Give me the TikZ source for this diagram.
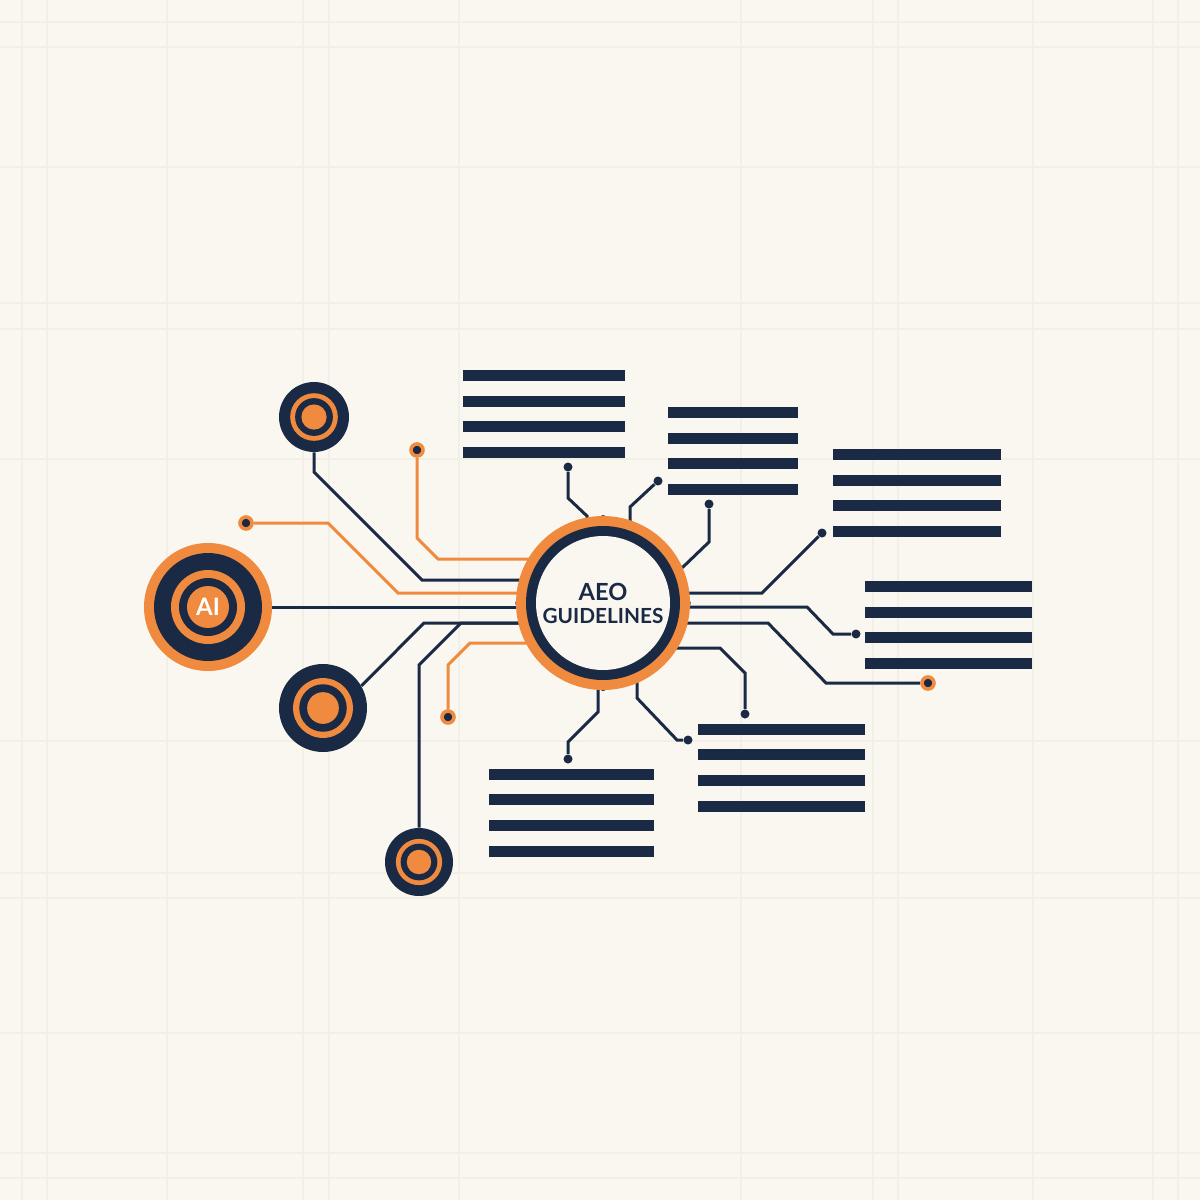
\documentclass[tikz,border=0pt]{standalone}
\usepackage{fontspec}
\setmainfont{Lato}
\usetikzlibrary{backgrounds}
\definecolor{navy}{HTML}{1B2A44}
\definecolor{accent}{HTML}{F08A3E}
\definecolor{paper}{HTML}{F9F7F0}
\definecolor{gridc}{HTML}{F2EFE7}
\tikzstyle{wire} = [draw=navy, line width=1.5pt]
\tikzstyle{owire} = [wire, draw=accent]
\tikzstyle{dot} = [circle, fill=navy, inner sep=0pt, minimum size=4.5pt]
\tikzstyle{odot} = [dot, draw=accent, line width=1.8pt, minimum size=6pt]
\tikzstyle{gridline} = [draw=gridc, line width=0.8pt]
\tikzstyle{doc} = [rectangle, inner sep=0pt, minimum height=44pt,
    path picture={\foreach \k in {0,...,3}
      \fill[navy] ([yshift=-\k*12.85pt]path picture bounding box.north west)
        rectangle ([yshift=-\k*12.85pt-5.5pt]path picture bounding box.north east);}]
\tikzset{
  target/.style={circle, fill=navy, inner sep=0pt, minimum size=#1pt,
    path picture={
      \fill[accent] (path picture bounding box.center) circle[radius=0.68*#1];
      \fill[navy] (path picture bounding box.center) circle[radius=0.54*#1];
      \fill[accent] (path picture bounding box.center) circle[radius=0.36*#1];}},
  aihub/.style={circle, fill=accent, inner sep=0pt, minimum size=64pt,
    text=white, font=\bfseries\fontsize{12}{14}\selectfont,
    path picture={
      \fill[navy] (path picture bounding box.center) circle[radius=54];
      \fill[accent] (path picture bounding box.center) circle[radius=37];
      \fill[navy] (path picture bounding box.center) circle[radius=29];
      \fill[accent] (path picture bounding box.center) circle[radius=21];}},
  hub/.style={circle, fill=accent, inner sep=0pt, minimum size=87pt,
    text=navy, align=center, font=\bfseries,
    path picture={
      \fill[navy] (path picture bounding box.center) circle[radius=77];
      \fill[paper] (path picture bounding box.center) circle[radius=67];}}
}

\begin{document}
\begin{tikzpicture}[x=0.5pt, y=-0.5pt]
    \useasboundingbox (0,0) rectangle (1200,1200);
    % Place nodes
    \node [aihub] (ai) at (208,607) {AI};
    \node [hub] (hub) at (603,603)
      {{\fontsize{11.8}{12}\selectfont AEO}\\[-0.5pt]{\fontsize{10.4}{12}\selectfont GUIDELINES}};
    \node [target=35] (tl) at (314,417) {};
    \node [target=44] (ml) at (323,708) {};
    \node [target=34] (bl) at (419,862) {};
    \node [odot] (o1) at (417,450) {};
    \node [odot] (o2) at (246,523) {};
    \node [odot] (o3) at (448,717) {};
    \node [odot] (o4) at (928,683) {};
    \node [dot] (d1) at (568,467) {};
    \node [dot] (d2) at (658,481) {};
    \node [dot] (d3) at (709,504) {};
    \node [dot] (d4) at (822,533) {};
    \node [dot] (d5) at (856,634) {};
    \node [dot] (d6) at (745,714) {};
    \node [dot] (d7) at (688,740) {};
    \node [dot] (d8) at (568,759) {};
    \node [doc, minimum width=81pt] (doc1) at (544,414) {};
    \node [doc, minimum width=65pt] (doc2) at (733,451) {};
    \node [doc, minimum width=84pt] (doc3) at (917,493) {};
    \node [doc, minimum width=83.5pt] (doc4) at (948.5,625) {};
    \node [doc, minimum width=83.5pt] (doc5) at (781.5,767.5) {};
    \node [doc, minimum width=82.5pt] (doc6) at (571.5,812.5) {};
    \begin{scope}[on background layer]
    \fill [paper] (0,0) rectangle (1200,1200);
    \foreach \g in {22,47,167,303,329,459,741,873,898,1033,1153,1178} {
      \path [gridline] (\g,0) -- (\g,1200);
      \path [gridline] (0,\g) -- (1200,\g);
    }
    % Draw edges
    \path [wire] (tl.south) -- (314,472) -- (422,580) -| (hub);
    \path [owire] (o1) -- (417,538) -- (438,559) -| (hub);
    \path [owire] (o2) -- (328,523) -- (398,593) -| (hub);
    \path [wire] (ai) -| (hub);
    \path [wire] (ml.30) -- (424,623) -| (hub);
    \path [wire] (bl.north) -- (419,665) -- (461,623) -| (hub);
    \path [owire] (o3) -- (448,665) -- (470,643) -| (hub);
    \path [wire] (d1) -- (568,498) -- (587,516) |- (hub);
    \path [wire] (d2) -- (630,507) |- (hub);
    \path [wire] (d3) -- (709,542) -- (683,567) -| (hub);
    \path [wire] (d4) -- (762,593) -| (hub);
    \path [wire] (d5) -- (833,634) -- (807,607) -| (hub);
    \path [wire] (o4) -- (826,683) -- (768,623) -| (hub);
    \path [wire] (d6) -- (745,673) -- (720,648) -| (hub);
    \path [wire] (d7) -- (677,740) -- (637,698) |- (hub);
    \path [wire] (d8) -- (568,742) -- (598,712) |- (hub);
    \end{scope}
\end{tikzpicture}
\end{document}
